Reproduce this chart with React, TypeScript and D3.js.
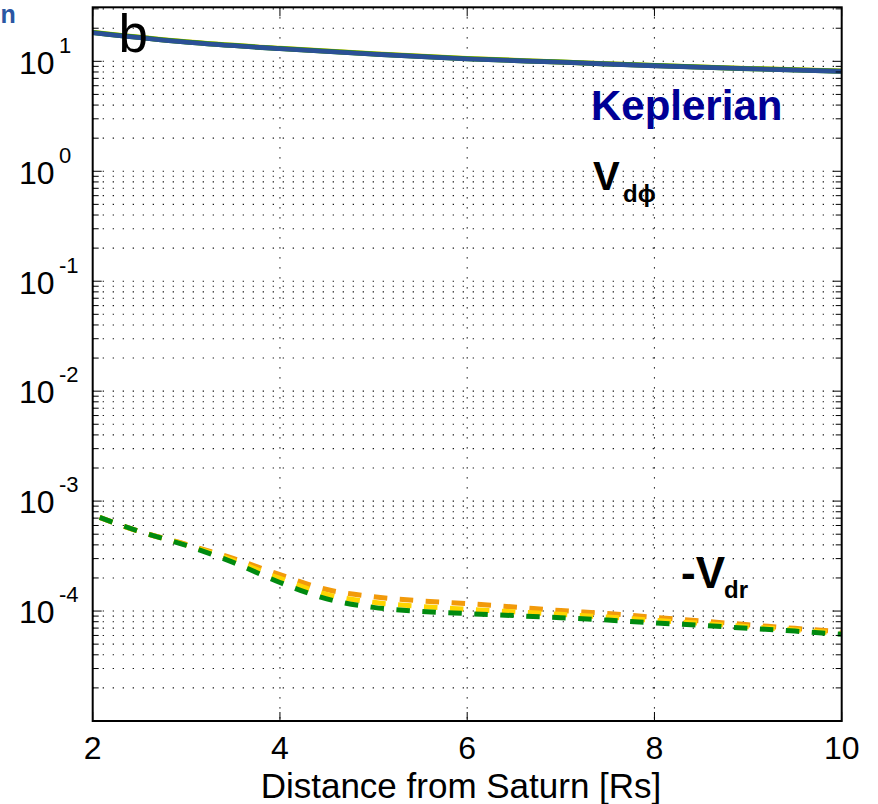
import React from "react";
import * as d3 from "d3";

const W = 878;
const H = 804;

// x positions (Distance from Saturn, Rs)
const xKep = [2, 3, 4, 5, 6, 7, 8, 9, 10];
// Keplerian velocity (top curve)
const kepler = [18.2, 14.9, 13.0, 11.6, 10.5, 9.8, 9.1, 8.55, 8.1];
// Vd_phi curves hidden under the Keplerian curve
const vdphiYellow = [18.4, 15.05, 13.12, 11.7, 10.6, 9.88, 9.17, 8.62, 8.16];
const vdphiGreen = [18.3, 14.98, 13.06, 11.65, 10.55, 9.84, 9.14, 8.58, 8.13];

const xDr = [2, 2.5, 3, 3.5, 4, 4.5, 5, 5.5, 6, 6.5, 7, 7.5, 8, 8.5, 9, 9.5, 10];
const vdrOrange = [7.49e-4, 5.3e-4, 4.04e-4, 3.01e-4, 2.14e-4, 1.57e-4, 1.35e-4, 1.24e-4, 1.17e-4, 1.09e-4, 1.01e-4, 9.49e-5, 8.77e-5, 8.11e-5, 7.51e-5, 6.96e-5, 6.47e-5];
const vdrYellow = [7.49e-4, 5.3e-4, 4.0e-4, 2.89e-4, 1.98e-4, 1.42e-4, 1.2e-4, 1.1e-4, 1.04e-4, 9.84e-5, 9.33e-5, 8.82e-5, 8.23e-5, 7.73e-5, 7.21e-5, 6.74e-5, 6.27e-5];
const vdrGreen = [7.49e-4, 5.3e-4, 3.95e-4, 2.77e-4, 1.82e-4, 1.29e-4, 1.08e-4, 9.94e-5, 9.48e-5, 9.09e-5, 8.71e-5, 8.28e-5, 7.81e-5, 7.41e-5, 6.97e-5, 6.57e-5, 6.14e-5];

const xTicks = [2, 4, 6, 8, 10];
const yExponents = [1, 0, -1, -2, -3, -4];

const FONT = "'Liberation Sans', Arial, Helvetica, sans-serif";

export default function App() {
  const left = 92.7, right = 841.7, top = 7.3, bottom = 721;
  const x = d3.scaleLinear().domain([2, 10]).range([left, right]);
  const y = d3.scaleLog().domain([1e-5, 31]).range([bottom, top]);

  const minorVals: number[] = [];
  for (let d = -5; d <= 1; d++) {
    for (let m = 1; m <= 9; m++) {
      const v = m * Math.pow(10, d);
      if (v > 1.0001e-5 && v < 30.9) minorVals.push(v);
    }
  }

  const line = (xs: number[]) =>
    d3
      .line<number>()
      .x((_, i) => x(xs[i]))
      .y((v) => y(v))
      .curve(d3.curveMonotoneX);

  const kLine = line(xKep);
  const dLine = line(xDr);

  const dash = { strokeDasharray: "13.5,12.5", strokeDashoffset: 18.6 };

  return (
    <svg
      width={W}
      height={H}
      style={{ position: "absolute", left: 0, top: 0, background: "#fff" }}
      fontFamily={FONT}
    >
      <rect x={0} y={0} width={W} height={H} fill="#fff" />
      {/* grid */}
      <g stroke="#000" strokeWidth={1.1} strokeDasharray="1.2,8.8" fill="none">
        {minorVals.map((v, i) => (
          <line key={"h" + i} x1={left} x2={right} y1={y(v)} y2={y(v)} />
        ))}
        {xTicks.slice(1, -1).map((t) => (
          <line key={"v" + t} x1={x(t)} x2={x(t)} y1={top} y2={bottom} />
        ))}
      </g>

      {/* Keplerian and Vdphi curves */}
      <path d={kLine(vdphiYellow) || ""} fill="none" stroke="#E8D000" strokeWidth={5} />
      <path d={kLine(vdphiGreen) || ""} fill="none" stroke="#1E8A1E" strokeWidth={5} />
      <path d={kLine(kepler) || ""} fill="none" stroke="#2B5096" strokeWidth={4.6} />

      {/* Vdr dashed curves */}
      <path d={dLine(vdrOrange) || ""} fill="none" stroke="#F29A0A" strokeWidth={5} {...dash} />
      <path d={dLine(vdrYellow) || ""} fill="none" stroke="#FFD500" strokeWidth={5} {...dash} />
      <path d={dLine(vdrGreen) || ""} fill="none" stroke="#008A10" strokeWidth={5} {...dash} />

      {/* ticks */}
      <g stroke="#000" strokeWidth={1}>
        {minorVals.map((v, i) => {
          const major = Math.abs(Math.log10(v) - Math.round(Math.log10(v))) < 1e-9;
          const len = major ? 9 : 6;
          return (
            <g key={"t" + i}>
              <line x1={left} x2={left + len} y1={y(v)} y2={y(v)} />
              <line x1={right} x2={right - len} y1={y(v)} y2={y(v)} />
            </g>
          );
        })}
        {xTicks.map((t) => (
          <g key={"xt" + t}>
            <line x1={x(t)} x2={x(t)} y1={bottom} y2={bottom - 9} />
            <line x1={x(t)} x2={x(t)} y1={top} y2={top + 9} />
          </g>
        ))}
      </g>

      {/* axes box */}
      <rect x={left} y={top} width={right - left} height={bottom - top} fill="none" stroke="#000" strokeWidth={2} />

      {/* y tick labels */}
      {yExponents.map((e) => (
        <g key={"yl" + e}>
          <text x={19} y={y(Math.pow(10, e)) + 12.3} fontSize={32} fill="#000">10</text>
          <text x={59} y={y(Math.pow(10, e)) - 8.7} fontSize={22} fill="#000">
            {e < 0 ? "-" + Math.abs(e) : String(e)}
          </text>
        </g>
      ))}

      {/* x tick labels */}
      {xTicks.map((t) => (
        <text key={"xl" + t} x={x(t)} y={759} fontSize={32} textAnchor="middle" fill="#000">
          {t}
        </text>
      ))}

      <text x={461} y={798} fontSize={35} textAnchor="middle" fill="#000">
        Distance from Saturn [Rs]
      </text>

      {/* annotations */}
      <text x={118.5} y={52} fontSize={53} fill="#000">b</text>
      <text x={591} y={120} fontSize={42} fontWeight="bold" fill="#000096">Keplerian</text>
      <text x={593} y={190} fontSize={40} fontWeight="bold" fill="#000">V</text>
      <text x={623} y={202} fontSize={24} fontWeight="bold" fill="#000">dϕ</text>
      <text x={681} y={588} fontSize={44} fontWeight="bold" fill="#000">-V</text>
      <text x={724} y={598} fontSize={24} fontWeight="bold" fill="#000">dr</text>
      <text x={0.5} y={23} fontSize={25} fontWeight="bold" fill="#2A57A3">n</text>
    </svg>
  );
}
